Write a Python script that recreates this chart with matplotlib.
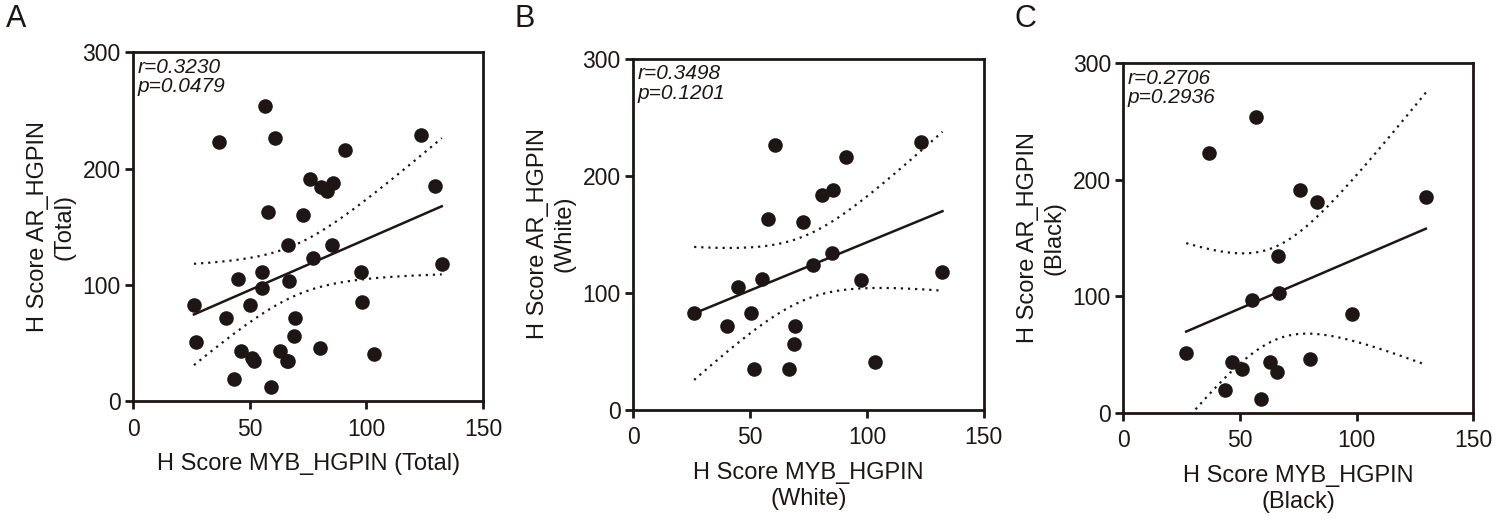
import numpy as np
import matplotlib
matplotlib.use("Agg")
import matplotlib.pyplot as plt

plt.rcParams["font.family"] = ["Liberation Sans", "DejaVu Sans"]

# Data
white_myb = [60.7, 123.3, 90.9, 80.7, 85.7, 57.9, 72.7, 85.1, 76.9, 55.3, 45.0,
             97.6, 132.3, 26.1, 50.3, 40.0, 69.3, 68.9, 51.7, 66.6, 103.3]
white_ar = [225.9, 229.0, 216.0, 183.8, 187.7, 162.7, 160.1, 134.2, 123.4, 111.4, 104.8,
            110.8, 117.7, 82.3, 82.9, 71.5, 71.5, 56.4, 34.5, 34.5, 40.2]
black_myb = [56.7, 36.7, 75.7, 83.1, 129.6, 66.4, 66.7, 55.3, 98.0, 26.9, 46.4,
             51.0, 62.9, 66.0, 80.0, 43.4, 59.0]
black_ar = [253.7, 223.1, 191.4, 180.6, 185.1, 134.6, 102.9, 97.1, 85.1, 50.9, 43.1,
            37.1, 43.1, 34.6, 45.7, 19.4, 12.0]

stats = ["r=0.3230\np=0.0479", "r=0.3498\np=0.1201", "r=0.2706\np=0.2936"]
xlabels = ["H Score MYB_HGPIN (Total)", "H Score MYB_HGPIN\n(White)", "H Score MYB_HGPIN\n(Black)"]
ylabels = ["H Score AR_HGPIN\n(Total)", "H Score AR_HGPIN\n(White)", "H Score AR_HGPIN\n(Black)"]
letters = ["A", "B", "C"]
t_crit = {36: 2.028, 19: 2.093, 15: 2.131}

datasets = [
    (np.array(white_myb + black_myb), np.array(white_ar + black_ar)),
    (np.array(white_myb), np.array(white_ar)),
    (np.array(black_myb), np.array(black_ar)),
]

ink = "#1e1614"
fig = plt.figure(figsize=(15.12, 5.23), dpi=100)
positions = [
    [0.088, 0.233, 0.2315, 0.667],
    [0.4187, 0.217, 0.232, 0.671],
    [0.743, 0.211, 0.2315, 0.668],
]
letter_x = [0.0106, 0.347, 0.678]

for i, (x, y) in enumerate(datasets):
    ax = fig.add_axes(positions[i])
    ax.scatter(x, y, s=110, color=ink, zorder=3, linewidths=0)

    # linear fit with 95% confidence band
    n = len(x)
    slope, intercept = np.polyfit(x, y, 1)
    xs = np.linspace(x.min(), x.max(), 200)
    fit = slope * xs + intercept
    resid = y - (slope * x + intercept)
    s_err = np.sqrt(np.sum(resid ** 2) / (n - 2))
    sxx = np.sum((x - x.mean()) ** 2)
    ci = t_crit[n - 2] * s_err * np.sqrt(1.0 / n + (xs - x.mean()) ** 2 / sxx)
    ax.plot(xs, fit, color=ink, lw=1.8, zorder=2)
    ax.plot(xs, fit + ci, color=ink, lw=1.6, ls=(0, (1, 2.2)), zorder=2)
    ax.plot(xs, fit - ci, color=ink, lw=1.6, ls=(0, (1, 2.2)), zorder=2)

    ax.set_xlim(0, 150)
    ax.set_ylim(0, 300)
    ax.set_xticks([0, 50, 100, 150])
    ax.set_yticks([0, 100, 200, 300])
    for sp in ax.spines.values():
        sp.set_linewidth(2)
        sp.set_color(ink)
    ax.tick_params(direction="out", length=6, width=2, labelsize=16.5, colors=ink)
    ax.tick_params(axis="x", pad=6)
    ax.tick_params(axis="y", pad=3)
    ax.set_xlabel(xlabels[i], fontsize=17, color=ink, labelpad=9, linespacing=1.25)
    ax.set_ylabel(ylabels[i], fontsize=17, color=ink, labelpad=5, linespacing=1.25)
    ax.text(0.012, 0.985, stats[i], transform=ax.transAxes, ha="left", va="top",
            fontsize=15, style="italic", color=ink, linespacing=1.05)
    fig.text(letter_x[i], 0.9637, letters[i], fontsize=22, color=ink,
             ha="center", va="center")

fig.savefig("out.png", dpi=100)
